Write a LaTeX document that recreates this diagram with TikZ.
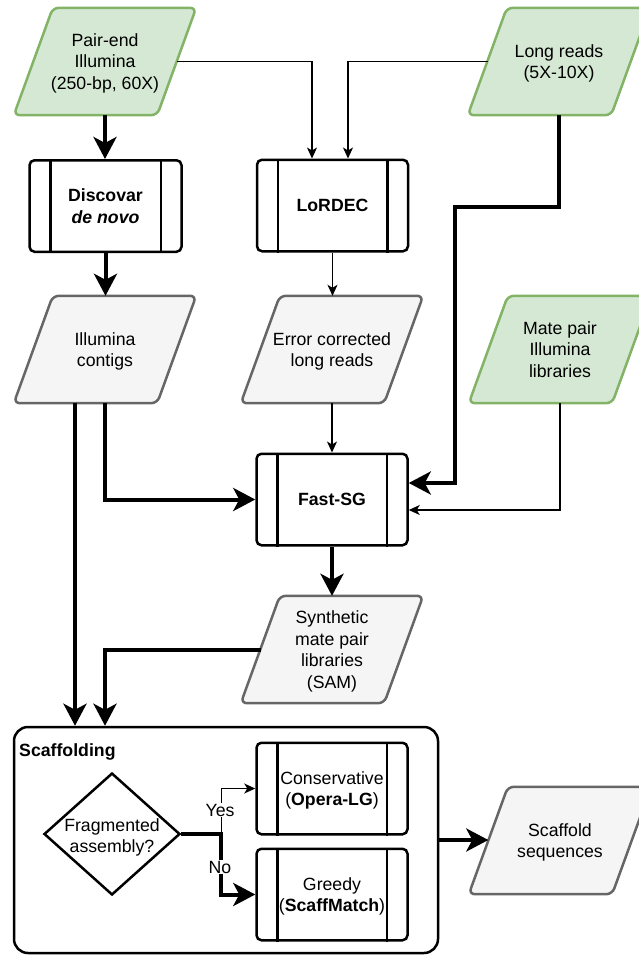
\documentclass[tikz,border=0pt]{standalone}
\usepackage{fontspec}
\setmainfont{Liberation Sans}
\usetikzlibrary{arrows.meta,shapes.geometric,backgrounds,calc}
\definecolor{gfill}{HTML}{D5E8D4}
\definecolor{gline}{HTML}{82B366}
\definecolor{pfill}{HTML}{F5F5F5}
\definecolor{pline}{HTML}{666666}
\tikzset{
  txt/.style={font=\fontsize{17.7pt}{21.5pt}\selectfont, align=center, inner sep=0pt, text depth=0pt},
  para/.style={txt, rectangle, minimum width=182pt, minimum height=107pt},
  proc/.style={txt, rectangle, draw, line width=2.5pt, rounded corners=5pt,
    minimum width=151pt, minimum height=91.5pt, fill=white},
  heavy/.style={line width=4pt, -{Stealth[length=22pt,width=23pt,inset=6pt]}},
  lite/.style={line width=1.3pt, -{Stealth[length=11pt,width=10pt,inset=3pt]}},
  lbl/.style={txt, fill=white, inner sep=1pt},
}
\newcommand\paradraw[3]{%
  \draw[line width=2.5pt, rounded corners=6pt, draw=#2, fill=#3]
    (#1.south west) -- ([xshift=39pt]#1.north west) -- (#1.north east)
    -- ([xshift=-39pt]#1.south east) -- cycle;}
\newcommand\procl[1]{%
  \draw[line width=2.5pt] ([xshift=22pt]#1.north west) -- ([xshift=22pt]#1.south west)
    ([xshift=-22pt]#1.north east) -- ([xshift=-22pt]#1.south east);}
\begin{document}
\begin{tikzpicture}[x=1pt,y=-1pt]
\useasboundingbox (0,0) rectangle (639,955);
% data nodes
\node[para] (pe) at (105,61.5) {Pair-end\\Illumina\\(250-bp, 60X)};
\node[para] (lr) at (559,61.5) {Long reads\\(5X-10X)};
\node[para] (ic) at (105,349.5) {Illumina\\contigs};
\node[para] (ec) at (332,349.5) {Error corrected\\long reads};
\node[para] (mp) at (560,349.5) {Mate pair\\Illumina\\libraries};
\node[para] (syn) at (332,649.5) {Synthetic\\mate pair\\libraries\\(SAM)};
\node[para] (ss) at (560,840.5) {Scaffold\\sequences};
\begin{pgfonlayer}{background}
  \paradraw{pe}{gline}{gfill}
  \paradraw{lr}{gline}{gfill}
  \paradraw{mp}{gline}{gfill}
  \paradraw{ic}{pline}{pfill}
  \paradraw{ec}{pline}{pfill}
  \paradraw{syn}{pline}{pfill}
  \paradraw{ss}{pline}{pfill}
\end{pgfonlayer}
% process nodes
\node[proc, minimum width=152pt] (disc) at (105.5,206) {\textbf{Discovar}\\\textbf{\textit{de novo}}};
\node[proc] (lor) at (332.5,205.5) {\textbf{LoRDEC}};
\node[proc] (fsg) at (332,499.5) {\textbf{Fast-SG}};
\node[rectangle, draw, line width=2.5pt, rounded corners=14pt,
  minimum width=424pt, minimum height=226pt] (scaf) at (226,840) {};
\node[txt, anchor=west] (scl) at (19,750) {\textbf{Scaffolding}};
\node[diamond, draw, line width=2.5pt, inner sep=0pt,
  minimum width=136pt, minimum height=122pt] (dia) at (112,834) {};
\node[txt] (diat) at (112,835.5) {Fragmented\\assembly?};
\node[proc] (cons) at (332,788.5) {Conservative\\(\textbf{Opera-LG})};
\node[proc] (greedy) at (332,894.5) {Greedy\\(\textbf{ScaffMatch})};
\procl{disc}\procl{lor}\procl{fsg}\procl{cons}\procl{greedy}
% connectors
\draw[heavy] (pe.south) -- (pe.south |- disc.north);
\draw[lite] ($(pe.center)+(71.5,0)$) -| ([xshift=-20.5pt]lor.north);
\draw[lite] ($(lr.center)+(-71.5,0)$) -| ([xshift=15.5pt]lor.north);
\draw[heavy] (disc.south) -- (disc.south |- ic.north);
\draw[lite] (lor.south) -- (lor.south |- ec.north);
\draw[lite] (ec.south) -- (ec.south |- fsg.north);
\coordinate (lrb) at (455,207);
\draw[heavy] (lr.south) |- (lrb) |- ([yshift=16.5pt]fsg.east);
\draw[lite] (mp.south) |- ([yshift=-10.5pt]fsg.east);
\draw[heavy] (ic.south) |- (fsg.west);
\draw[heavy] ([xshift=-30pt]ic.south) -- ([xshift=-30pt]ic.south |- scaf.north);
\draw[heavy] (fsg.south) -- (fsg.south |- syn.north);
\draw[heavy] ($(syn.center)+(-71.5,0)$) -| (ic.south |- scaf.north);
\draw[heavy] (scaf.east) -- ([xshift=19.5pt]scaf.east -| ss.west);
\coordinate (jn) at ($(dia.east)+(40,0)$);
\draw[lite] (dia.east) -- (jn) |- (cons.west);
\draw[heavy] (dia.east) -- (jn) |- (greedy.west);
\node[lbl] (yes) at (220,810) {Yes};
\node[lbl] (no) at (220,867) {No};
\end{tikzpicture}
\end{document}
